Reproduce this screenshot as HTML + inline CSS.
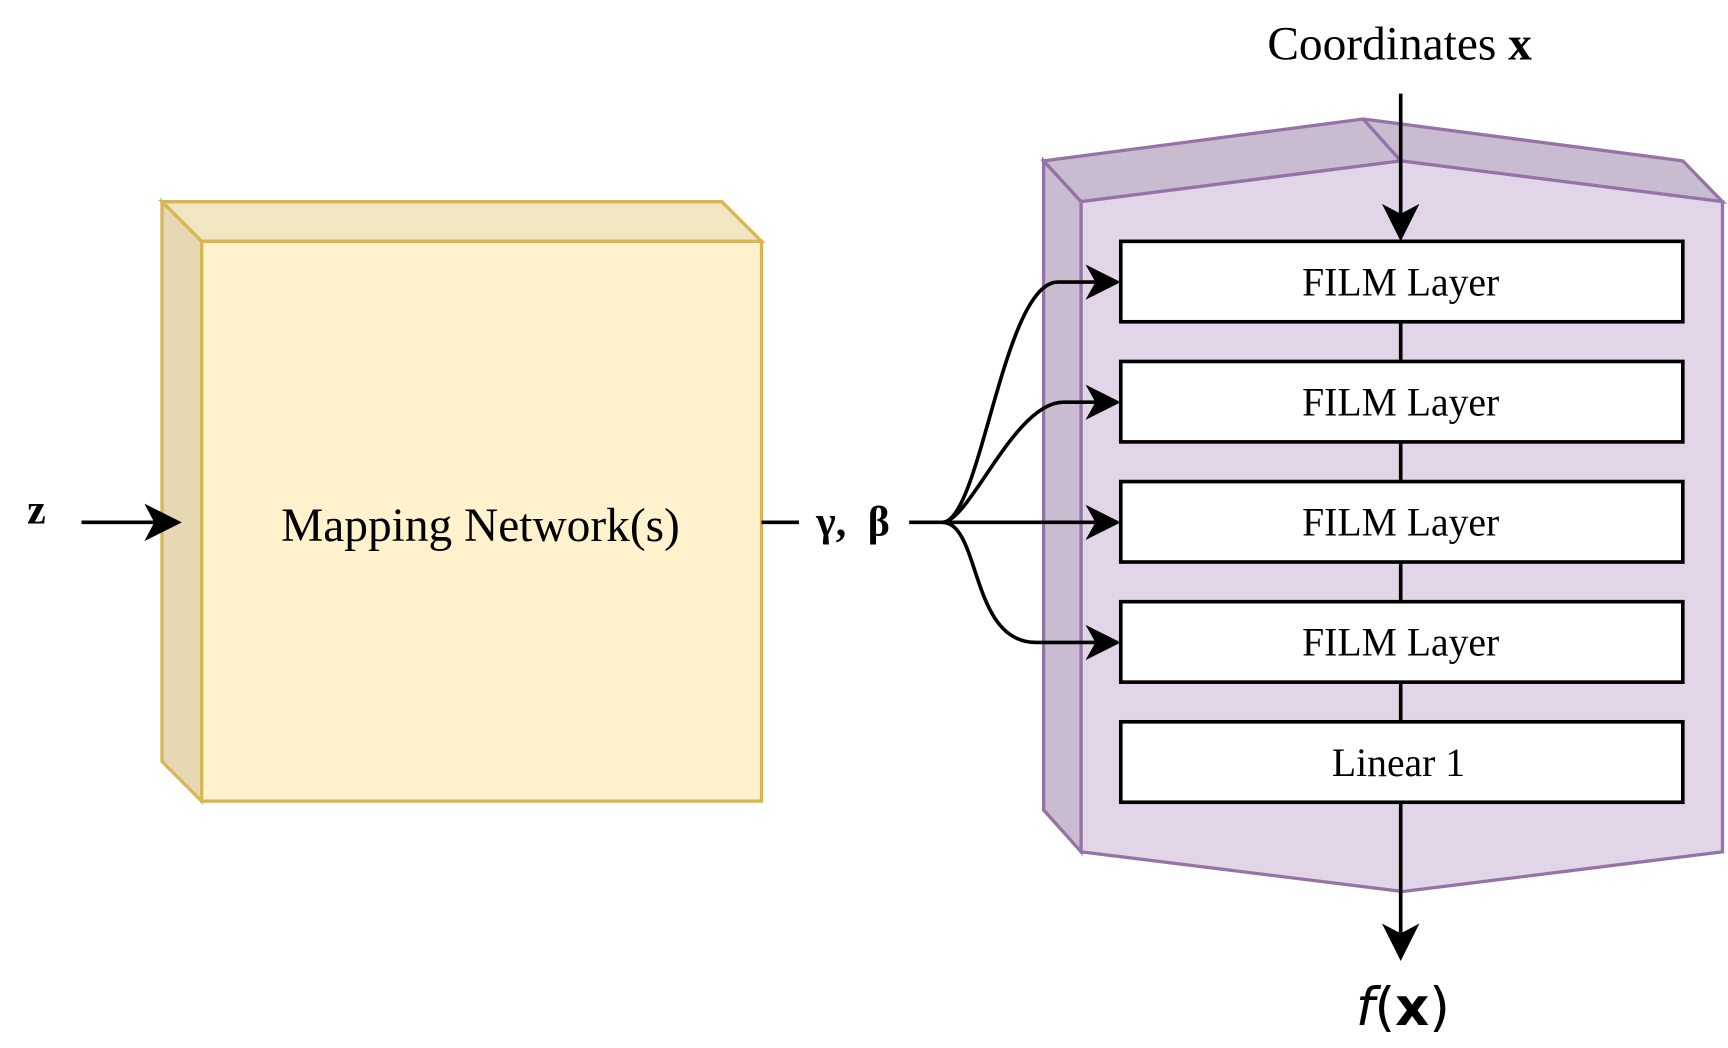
<!DOCTYPE html>
<html><head><meta charset="utf-8"><style>
html,body{margin:0;padding:0;background:#fff;}
svg{display:block;}
text{font-family:"Liberation Serif",serif;}
</style></head><body>
<svg width="1728" height="1048" viewBox="0 0 1568 951" preserveAspectRatio="none" xmlns="http://www.w3.org/2000/svg">
<!-- yellow block -->
<g stroke="#d6b656" stroke-width="3" stroke-linejoin="miter">
<polygon points="147,183 183,219 183,727 147,691" fill="#e6d8b3"/>
<polygon points="147,183 655,183 691,219 183,219" fill="#f2e5c2"/>
<rect x="183" y="219" width="508" height="508" fill="#fff2cc"/>
</g>
<text x="436" y="491" font-size="43" text-anchor="middle">Mapping Network(s)</text>
<!-- z -->
<text x="33" y="475" font-size="38" font-weight="bold" text-anchor="middle">z</text>
<line x1="74" y1="474" x2="145" y2="474" stroke="#000" stroke-width="3.3"/>
<polygon points="165,474 131,457 140,474 131,491" fill="#000"/>
<line x1="691" y1="474" x2="725" y2="474" stroke="#000" stroke-width="3.3"/>
<text x="774" y="486" font-size="38" font-weight="bold" text-anchor="middle">γ,  <tspan dx="10">β</tspan></text>
<!-- purple block -->
<g stroke="#9673a6" stroke-width="3" stroke-linejoin="miter">
<polygon points="947,146 981,183 981,773 947,735" fill="#c9bcd0"/>
<polygon points="947,146 1237,108 1527,146 1563,183 1271,146 981,183" fill="#c9bcd0"/>
<line x1="1237" y1="108" x2="1271" y2="146"/>
<polygon points="981,183 1271,146 1563,183 1563,773 1273,809 981,773" fill="#e1d5e7"/>
</g>
<!-- connectors -->
<g stroke="#000" stroke-width="3.3" fill="none">
<line x1="1271" y1="85" x2="1271" y2="200"/>
<line x1="1271" y1="292" x2="1271" y2="655"/>
<line x1="1271" y1="728" x2="1271" y2="850"/>
<path d="M825,474 L855,474 C890,474 910,256 960,256 L1000,256"/>
<path d="M855,474 C880,474 920,365 965,365 L1000,365"/>
<path d="M855,474 L1000,474"/>
<path d="M855,474 C890,474 880,583 940,583 L1000,583"/>
</g>
<g fill="#000">
<polygon points="1271,219 1254,185 1271,194 1288,185"/>
<polygon points="1271,872 1254,838 1271,847 1288,838"/>
<polygon points="1017,256 985,240 994,256 985,272"/>
<polygon points="1017,365 985,349 994,365 985,381"/>
<polygon points="1017,474 985,458 994,474 985,490"/>
<polygon points="1017,583 985,567 994,583 985,599"/>
</g>
<g fill="#fff" stroke="#000" stroke-width="3.3">
<rect x="1017" y="219" width="510" height="73"/>
<rect x="1017" y="328" width="510" height="73"/>
<rect x="1017" y="437" width="510" height="73"/>
<rect x="1017" y="546" width="510" height="73"/>
<rect x="1017" y="655" width="510" height="73"/>
</g>
<g font-size="36" text-anchor="middle">
<text x="1271" y="268">FILM Layer</text>
<text x="1271" y="377">FILM Layer</text>
<text x="1271" y="486">FILM Layer</text>
<text x="1271" y="595">FILM Layer</text>
<text x="1269" y="704">Linear 1</text>
</g>
<text x="1270" y="54" font-size="43" text-anchor="middle">Coordinates <tspan font-weight="bold">x</tspan></text>
<text x="1273" y="930" font-size="48" text-anchor="middle" style="font-family:'DejaVu Sans',sans-serif"><tspan font-style="italic">f</tspan>(<tspan font-weight="bold">x</tspan>)</text>
</svg>
</body></html>
